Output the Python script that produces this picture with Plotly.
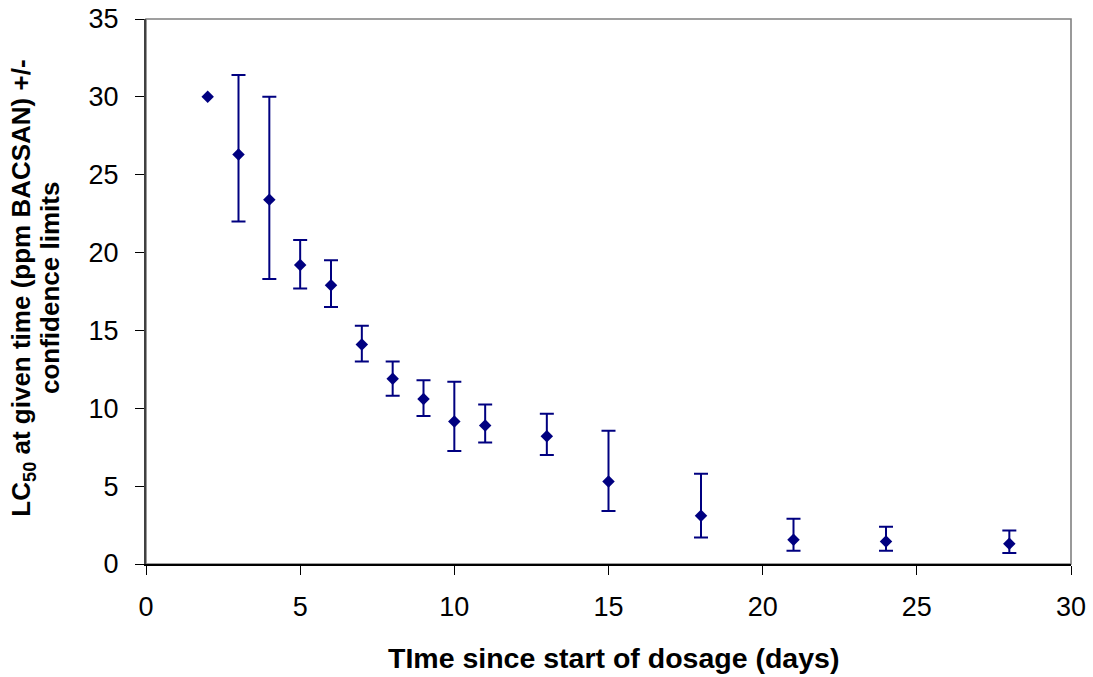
import plotly.graph_objects as go

days = [2, 3, 4, 5, 6, 7, 8, 9, 10, 11, 13, 15, 18, 21, 24, 28]
lc50 = [30.0, 26.3, 23.4, 19.2, 17.9, 14.1, 11.9, 10.6, 9.15, 8.9, 8.2, 5.3, 3.1, 1.55, 1.45, 1.3]
upper = [None, 31.4, 30.0, 20.8, 19.5, 15.3, 13.0, 11.8, 11.7, 10.25, 9.65, 8.55, 5.8, 2.9, 2.4, 2.15]
lower = [None, 22.0, 18.3, 17.7, 16.5, 13.0, 10.8, 9.5, 7.25, 7.8, 7.0, 3.4, 1.7, 0.85, 0.85, 0.7]

x_ticks = [0, 5, 10, 15, 20, 25, 30]
y_ticks = [0, 5, 10, 15, 20, 25, 30, 35]

NAVY = "#000080"
FONT = "Liberation Sans, Arial, sans-serif"

idx_err = [i for i in range(len(days)) if upper[i] is not None]
idx_no = [i for i in range(len(days)) if upper[i] is None]

fig = go.Figure()
fig.add_trace(go.Scatter(
    x=[days[i] for i in idx_err],
    y=[lc50[i] for i in idx_err],
    mode="markers",
    marker=dict(symbol="diamond", size=9.6, color=NAVY, line=dict(width=0)),
    error_y=dict(
        type="data", symmetric=False,
        array=[upper[i] - lc50[i] for i in idx_err],
        arrayminus=[lc50[i] - lower[i] for i in idx_err],
        color=NAVY, thickness=2, width=7,
    ),
    showlegend=False,
))
fig.add_trace(go.Scatter(
    x=[days[i] for i in idx_no],
    y=[lc50[i] for i in idx_no],
    mode="markers",
    marker=dict(symbol="diamond", size=9.6, color=NAVY, line=dict(width=0)),
    showlegend=False,
))

fig.update_layout(
    width=1093, height=677,
    margin=dict(l=146, r=22, t=19, b=113, pad=0),
    paper_bgcolor="white", plot_bgcolor="white",
    font=dict(family=FONT, size=26, color="black"),
    xaxis=dict(
        range=[0, 30], tickvals=x_ticks, ticktext=[str(v) for v in x_ticks],
        ticks="outside", ticklen=9, tickwidth=1.3, tickcolor="black",
        showline=True, linecolor="black", linewidth=1.5,
        showgrid=False, zeroline=False, automargin=False,
        tickfont=dict(family=FONT, size=27, color="black"),
        ticklabelstandoff=9,
    ),
    yaxis=dict(
        range=[0, 35], tickvals=y_ticks, ticktext=[str(v) for v in y_ticks],
        ticks="outside", ticklen=9, tickwidth=1.3, tickcolor="black",
        showline=True, linecolor="#404040", linewidth=2,
        showgrid=False, zeroline=False, automargin=False,
        tickfont=dict(family=FONT, size=27, color="black"),
        ticklabelstandoff=11,
    ),
    shapes=[dict(
        type="rect", xref="paper", yref="paper", x0=0, y0=0, x1=1, y1=1,
        line=dict(color="#808080", width=1.6), layer="below",
    )],
    annotations=[
        dict(
            text="TIme since start of dosage (days)",
            xref="paper", yref="paper", x=0.505, y=-0.173,
            xanchor="center", yanchor="middle", showarrow=False,
            font=dict(family=FONT, size=28.5, color="black", weight="bold"),
        ),
        dict(
            text="LC<sub>50</sub> at given time (ppm BACSAN) +/-",
            xref="paper", yref="paper", x=-0.133, y=0.507,
            xanchor="center", yanchor="middle", showarrow=False, textangle=-90,
            font=dict(family=FONT, size=26, color="black", weight="bold"),
        ),
        dict(
            text="confidence limits",
            xref="paper", yref="paper", x=-0.1045, y=0.507,
            xanchor="center", yanchor="middle", showarrow=False, textangle=-90,
            font=dict(family=FONT, size=26, color="black", weight="bold"),
        ),
    ],
)

fig.write_html(
    "out.html",
    config={"displayModeBar": False},
    post_script="document.body.style.margin='0';document.body.style.overflow='hidden';",
)
